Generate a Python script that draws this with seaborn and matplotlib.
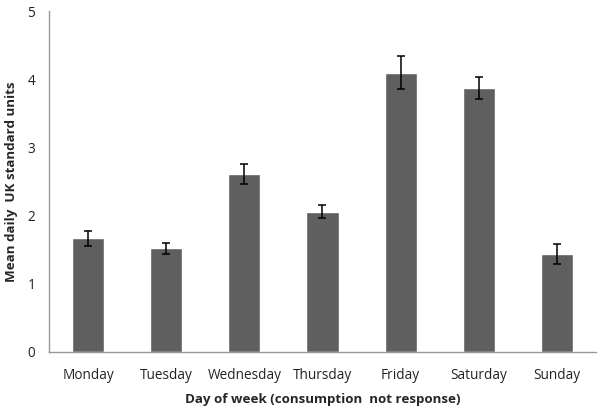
import matplotlib
matplotlib.use("Agg")
import matplotlib.pyplot as plt
import seaborn as sns
import pandas as pd
import numpy as np

days = ["Monday", "Tuesday", "Wednesday", "Thursday", "Friday", "Saturday", "Sunday"]
mean_units = [1.67, 1.52, 2.61, 2.06, 4.10, 3.88, 1.44]
err_units = [0.11, 0.08, 0.15, 0.10, 0.24, 0.16, 0.15]

df = pd.DataFrame({"day": days, "units": mean_units, "err": err_units})

sns.set_style("white")
plt.rcParams["font.family"] = ["Open Sans", "DejaVu Sans"]

fig, ax = plt.subplots(figsize=(6, 4.09), dpi=100)
fig.subplots_adjust(left=0.082, right=0.993, top=0.972, bottom=0.14)

sns.barplot(data=df, x="day", y="units", color="#5f5f5f", saturation=1,
            width=0.41, ax=ax)
ax.errorbar(np.arange(len(days)), df["units"], yerr=df["err"], fmt="none",
            ecolor="black", elinewidth=1.1, capsize=3, capthick=1.1)

ax.set_xlim(-0.5, len(days) - 0.5)
ax.set_ylim(0, 5)
ax.set_yticks([0, 1, 2, 3, 4, 5])
ax.set_xticks(np.arange(len(days)))
ax.set_xticklabels(days)
ax.set_xticks(np.arange(-0.5, len(days)), minor=True)
ax.tick_params(axis="x", which="major", length=0, labelsize=9.8, pad=12, colors="#222222")
ax.tick_params(axis="x", which="minor", length=5, color="#999999", direction="out")
ax.tick_params(axis="y", length=4, color="#999999", labelsize=9.8, direction="out", pad=6)
for lbl in ax.get_yticklabels():
    lbl.set_color("#222222")

for side in ["top", "right"]:
    ax.spines[side].set_visible(False)
for side in ["left", "bottom"]:
    ax.spines[side].set_color("#999999")
    ax.spines[side].set_linewidth(1)

ax.set_xlabel("Day of week (consumption  not response)", fontsize=9.6,
              fontweight="bold", labelpad=7)
ax.set_ylabel("Mean daily  UK standard units", fontsize=9.6,
              fontweight="bold", labelpad=7)

fig.savefig("out.png", dpi=100)
